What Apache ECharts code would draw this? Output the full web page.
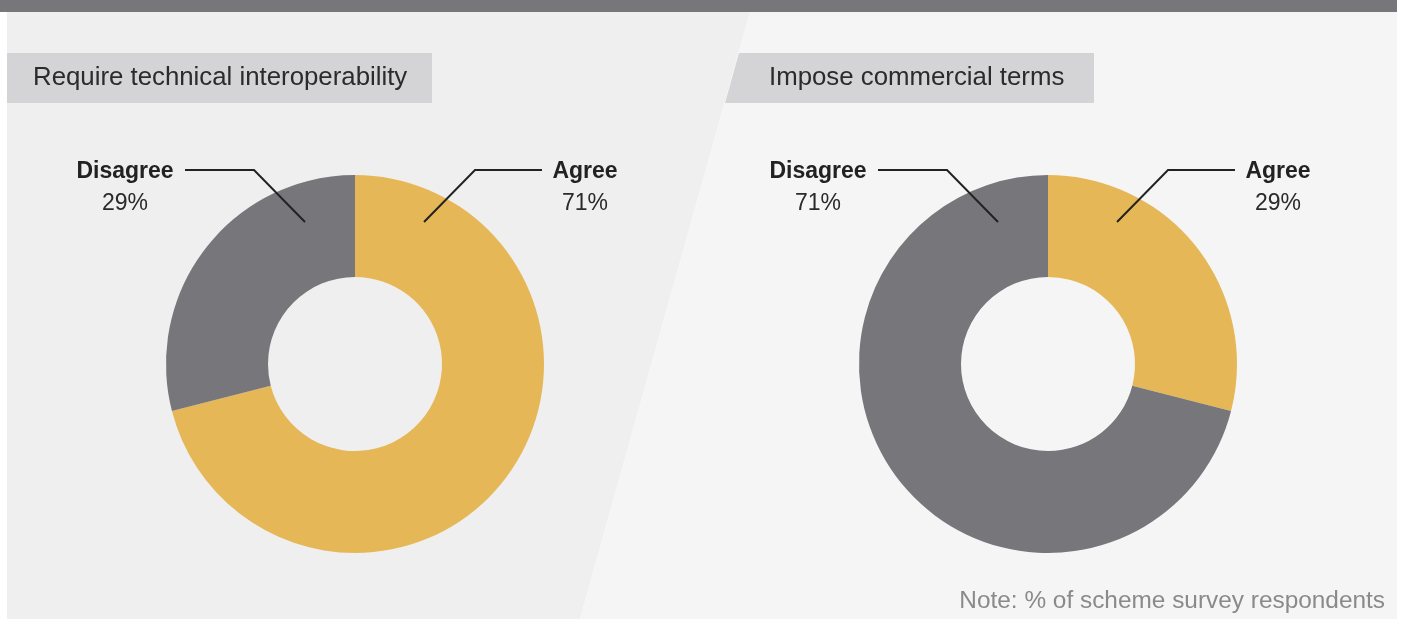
<!DOCTYPE html>
<html>
<head>
<meta charset="utf-8">
<script src="https://cdn.jsdelivr.net/npm/echarts@6/dist/echarts.min.js"></script>
<style>
  html, body { margin: 0; padding: 0; background: #ffffff; }
  #chart { width: 1402px; height: 619px; }
</style>
</head>
<body>
<div id="chart"></div>
<script>
// Survey answers, one donut per question
const panelTitles = ['Require technical interoperability', 'Impose commercial terms'];
const answerNames = ['Agree', 'Disagree'];
const interoperabilityValues = [71, 29];
const commercialTermsValues = [29, 71];
const noteText = 'Note: % of scheme survey respondents';

const GOLD = '#e6b757';
const GREY = '#77777b';
const FONT = '"Liberation Sans", Arial, sans-serif';

const centers = [[355, 364], [1048, 364]];
const LABEL_DX = 230;   // horizontal offset of answer labels from donut centre
const LABEL_Y = 188;    // vertical middle of the two-line answer label

const chart = echarts.init(document.getElementById('chart'), null, { renderer: 'canvas' });

function donut(values, center) {
  return {
    type: 'pie',
    center: center,
    radius: [87, 189],
    startAngle: 90,
    clockwise: true,
    avoidLabelOverlap: false,
    silent: true,
    itemStyle: { borderWidth: 0 },
    label: {
      show: true,
      position: 'outside',
      formatter: '{n|{b}}\n{v|{c}%}',
      rich: {
        n: { fontFamily: FONT, fontWeight: 'bold', fontSize: 23, color: '#222222', lineHeight: 32, align: 'center' },
        v: { fontFamily: FONT, fontSize: 23, color: '#2a2a2a', lineHeight: 32, align: 'center' }
      }
    },
    labelLine: { show: false },
    labelLayout: function (params) {
      const name = answerNames[params.dataIndex];
      const dx = name === 'Agree' ? LABEL_DX : -LABEL_DX;
      return { x: center[0] + dx, y: LABEL_Y, align: 'center', verticalAlign: 'middle' };
    },
    data: answerNames.map(function (n, i) {
      return { name: n, value: values[i], itemStyle: { color: n === 'Agree' ? GOLD : GREY } };
    })
  };
}

// Leader lines running from each answer label into its donut
function leaders(c) {
  const cx = c[0];
  const lineStyle = { stroke: '#222222', lineWidth: 2, fill: null };
  return [
    { type: 'polyline', z: 20, shape: { points: [[cx - 170, 170], [cx - 101, 170], [cx - 50, 222]] }, style: lineStyle },
    { type: 'polyline', z: 20, shape: { points: [[cx + 187, 170], [cx + 120, 170], [cx + 69, 222]] }, style: lineStyle }
  ];
}

const graphics = [
  // panel backgrounds split by a slanted edge
  { type: 'polygon', z: -10, shape: { points: [[7, 12], [750, 12], [580, 619], [7, 619]] }, style: { fill: '#efefef' } },
  { type: 'polygon', z: -10, shape: { points: [[750, 12], [1397, 12], [1397, 619], [580, 619]] }, style: { fill: '#f5f5f5' } },
  // header strip
  { type: 'rect', z: -5, shape: { x: 0, y: 0, width: 1397, height: 12 }, style: { fill: '#77777b' } },
  // question title boxes
  { type: 'rect', z: -5, shape: { x: 7, y: 53, width: 425, height: 50 }, style: { fill: '#d4d4d6' } },
  { type: 'polygon', z: -5, shape: { points: [[739, 53], [1094, 53], [1094, 103], [725, 103]] }, style: { fill: '#d4d4d6' } },
  { type: 'text', z: 5, x: 33, y: 78, style: { text: panelTitles[0], font: '25.8px ' + FONT, fill: '#2b2b2b', textVerticalAlign: 'middle' } },
  { type: 'text', z: 5, x: 769, y: 78, style: { text: panelTitles[1], font: '25.8px ' + FONT, fill: '#2b2b2b', textVerticalAlign: 'middle' } },
  // footnote
  { type: 'text', z: 5, x: 1385, y: 601, style: { text: noteText, font: '24.4px ' + FONT, fill: '#8a8a8a', textAlign: 'right', textVerticalAlign: 'middle' } }
].concat(leaders(centers[0]), leaders(centers[1]));

chart.setOption({
  backgroundColor: '#ffffff',
  animation: false,
  graphic: graphics,
  series: [
    donut(interoperabilityValues, centers[0]),
    donut(commercialTermsValues, centers[1])
  ]
});
</script>
</body>
</html>
